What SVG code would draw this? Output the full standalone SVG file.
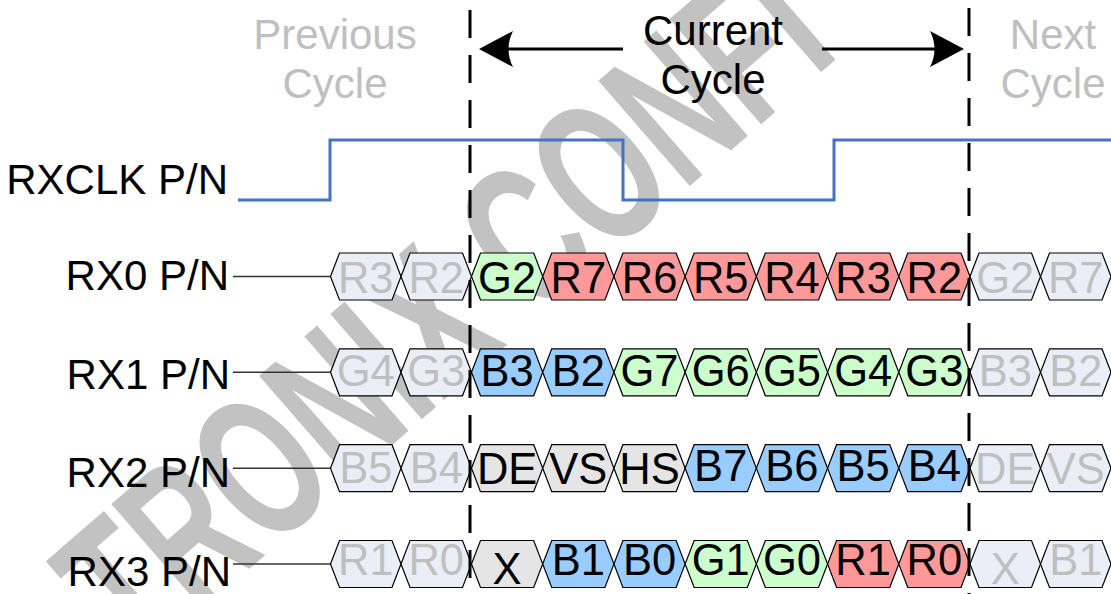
<svg xmlns="http://www.w3.org/2000/svg" xmlns:xlink="http://www.w3.org/1999/xlink" width="1111" height="594" viewBox="0 0 1111 594">
<style>
  text { font-family: "Liberation Sans", Arial, sans-serif; }
  .wm { font-size: 150px; font-weight: bold; fill: #c2c2c2; }
  .lbl { font-size: 42px; fill: #000; text-anchor: end; }
  .hdr { font-size: 42px; text-anchor: middle; }
  .hdr-in { fill: #bfbfbf; }
  .hdr-cur { fill: #000; }
  .ht { font-size: 43.5px; text-anchor: middle; }
  .on { fill: #000; }
  .off { fill: #bfbfbf; }
  .hx { stroke: #000; stroke-width: 1.2; stroke-linejoin: miter; }
  .ia { fill: #eaeff7; }
  .g { fill: #ccffcc; }
  .r { fill: #ff9999; }
  .b { fill: #99ccff; }
  .k { fill: #e5e5e5; }
  .wire { stroke: #333; stroke-width: 1.5; fill: none; }
  .clk { stroke: #4472c4; stroke-width: 3; fill: none; stroke-linejoin: miter; }
  .dash { stroke: #000; stroke-width: 3; stroke-dasharray: 28 17; fill: none; }
  .arr { stroke: #000; stroke-width: 3; fill: none; }
  .head { fill: #000; }
</style>
<defs>
  <path id="hexA" d="M0,0 L9,-23.5 H61.5 L70.5,0 L61.5,23.5 H9 Z"/>
  <path id="hexB" d="M0,0 L9,-23.5 H62.2 L71.2,0 L62.2,23.5 H9 Z"/>
</defs>

<g id="watermark">
  <text class="wm" transform="translate(136.2,667.4) rotate(-41) scale(0.87,1.35)">TRONIX CONFI</text>
</g>

<g id="connectors">
  <line class="wire" x1="233" y1="276.5" x2="330.5" y2="276.5"/>
  <line class="wire" x1="233" y1="372.3" x2="330.5" y2="372.3"/>
  <line class="wire" x1="233" y1="468.2" x2="330.5" y2="468.2"/>
  <line class="wire" x1="233" y1="564" x2="330.5" y2="564"/>
  <polyline class="clk" points="238,200 330,200 330,140 623,140 623,200 834,200 834,140 1111,140"/>
  <line class="arr" x1="505" y1="49" x2="623" y2="49"/>
  <line class="arr" x1="822" y1="49" x2="938" y2="49"/>
  <path class="head" d="M479,49 L513,31 Q504,49 513,67 Z"/>
  <path class="head" d="M964,49 L930,31 Q939,49 930,67 Z"/>
</g>

<g id="label-prev">
  <text class="hdr hdr-in" x="335" y="49">Previous</text>
  <text class="hdr hdr-in" x="335" y="98">Cycle</text>
</g>
<g id="label-current">
  <text class="hdr hdr-cur" x="713" y="45">Current</text>
  <text class="hdr hdr-cur" x="713" y="94">Cycle</text>
</g>
<g id="label-next">
  <text class="hdr hdr-in" x="1053" y="49">Next</text>
  <text class="hdr hdr-in" x="1053" y="98">Cycle</text>
</g>

<g id="label-rxclk"><text class="lbl" x="228" y="194">RXCLK P/N</text></g>
<g id="label-rx0"><text class="lbl" x="229" y="290">RX0 P/N</text></g>
<g id="label-rx1"><text class="lbl" x="230" y="389">RX1 P/N</text></g>
<g id="label-rx2"><text class="lbl" x="230" y="487">RX2 P/N</text></g>
<g id="label-rx3"><text class="lbl" x="231" y="586">RX3 P/N</text></g>

<!-- Row 0 -->
<g id="rx0-p1" transform="translate(330.5,276.5)"><use href="#hexA" class="hx ia"/><text class="ht off" x="35.25" y="16">R3</text></g>
<g id="rx0-p2" transform="translate(401,276.5)"><use href="#hexA" class="hx ia"/><text class="ht off" x="35.25" y="16">R2</text></g>
<g id="rx0-c1" transform="translate(471.5,276.5)"><use href="#hexB" class="hx g"/><text class="ht on" x="35.6" y="16">G2</text></g>
<g id="rx0-c2" transform="translate(542.71,276.5)"><use href="#hexB" class="hx r"/><text class="ht on" x="35.6" y="16">R7</text></g>
<g id="rx0-c3" transform="translate(613.93,276.5)"><use href="#hexB" class="hx r"/><text class="ht on" x="35.6" y="16">R6</text></g>
<g id="rx0-c4" transform="translate(685.14,276.5)"><use href="#hexB" class="hx r"/><text class="ht on" x="35.6" y="16">R5</text></g>
<g id="rx0-c5" transform="translate(756.36,276.5)"><use href="#hexB" class="hx r"/><text class="ht on" x="35.6" y="16">R4</text></g>
<g id="rx0-c6" transform="translate(827.57,276.5)"><use href="#hexB" class="hx r"/><text class="ht on" x="35.6" y="16">R3</text></g>
<g id="rx0-c7" transform="translate(898.79,276.5)"><use href="#hexB" class="hx r"/><text class="ht on" x="35.6" y="16">R2</text></g>
<g id="rx0-n1" transform="translate(970,276.5)"><use href="#hexA" class="hx ia"/><text class="ht off" x="35.25" y="16">G2</text></g>
<g id="rx0-n2" transform="translate(1040.5,276.5)"><use href="#hexA" class="hx ia"/><text class="ht off" x="35.25" y="16">R7</text></g>

<!-- Row 1 -->
<g id="rx1-p1" transform="translate(330.5,372.3)"><use href="#hexA" class="hx ia"/><text class="ht off" x="35.25" y="14">G4</text></g>
<g id="rx1-p2" transform="translate(401,372.3)"><use href="#hexA" class="hx ia"/><text class="ht off" x="35.25" y="14">G3</text></g>
<g id="rx1-c1" transform="translate(471.5,372.3)"><use href="#hexB" class="hx b"/><text class="ht on" x="35.6" y="14">B3</text></g>
<g id="rx1-c2" transform="translate(542.71,372.3)"><use href="#hexB" class="hx b"/><text class="ht on" x="35.6" y="14">B2</text></g>
<g id="rx1-c3" transform="translate(613.93,372.3)"><use href="#hexB" class="hx g"/><text class="ht on" x="35.6" y="14">G7</text></g>
<g id="rx1-c4" transform="translate(685.14,372.3)"><use href="#hexB" class="hx g"/><text class="ht on" x="35.6" y="14">G6</text></g>
<g id="rx1-c5" transform="translate(756.36,372.3)"><use href="#hexB" class="hx g"/><text class="ht on" x="35.6" y="14">G5</text></g>
<g id="rx1-c6" transform="translate(827.57,372.3)"><use href="#hexB" class="hx g"/><text class="ht on" x="35.6" y="14">G4</text></g>
<g id="rx1-c7" transform="translate(898.79,372.3)"><use href="#hexB" class="hx g"/><text class="ht on" x="35.6" y="14">G3</text></g>
<g id="rx1-n1" transform="translate(970,372.3)"><use href="#hexA" class="hx ia"/><text class="ht off" x="35.25" y="14">B3</text></g>
<g id="rx1-n2" transform="translate(1040.5,372.3)"><use href="#hexA" class="hx ia"/><text class="ht off" x="35.25" y="14">B2</text></g>

<!-- Row 2 -->
<g id="rx2-p1" transform="translate(330.5,468.2)"><use href="#hexA" class="hx ia"/><text class="ht off" x="35.25" y="15">B5</text></g>
<g id="rx2-p2" transform="translate(401,468.2)"><use href="#hexA" class="hx ia"/><text class="ht off" x="35.25" y="15">B4</text></g>
<g id="rx2-c1" transform="translate(471.5,468.2)"><use href="#hexB" class="hx k"/><text class="ht on" x="35.6" y="16">DE</text></g>
<g id="rx2-c2" transform="translate(542.71,468.2)"><use href="#hexB" class="hx k"/><text class="ht on" x="35.6" y="16">VS</text></g>
<g id="rx2-c3" transform="translate(613.93,468.2)"><use href="#hexB" class="hx k"/><text class="ht on" x="35.6" y="16">HS</text></g>
<g id="rx2-c4" transform="translate(685.14,468.2)"><use href="#hexB" class="hx b"/><text class="ht on" x="35.6" y="13">B7</text></g>
<g id="rx2-c5" transform="translate(756.36,468.2)"><use href="#hexB" class="hx b"/><text class="ht on" x="35.6" y="13">B6</text></g>
<g id="rx2-c6" transform="translate(827.57,468.2)"><use href="#hexB" class="hx b"/><text class="ht on" x="35.6" y="13">B5</text></g>
<g id="rx2-c7" transform="translate(898.79,468.2)"><use href="#hexB" class="hx b"/><text class="ht on" x="35.6" y="13">B4</text></g>
<g id="rx2-n1" transform="translate(970,468.2)"><use href="#hexA" class="hx ia"/><text class="ht off" x="35.25" y="16">DE</text></g>
<g id="rx2-n2" transform="translate(1040.5,468.2)"><use href="#hexA" class="hx ia"/><text class="ht off" x="35.25" y="16">VS</text></g>

<!-- Row 3 -->
<g id="rx3-p1" transform="translate(330.5,564)"><use href="#hexA" class="hx ia"/><text class="ht off" x="35.25" y="11">R1</text></g>
<g id="rx3-p2" transform="translate(401,564)"><use href="#hexA" class="hx ia"/><text class="ht off" x="35.25" y="11">R0</text></g>
<g id="rx3-c1" transform="translate(471.5,564)"><use href="#hexB" class="hx k"/><text class="ht on" x="35.6" y="20">X</text></g>
<g id="rx3-c2" transform="translate(542.71,564)"><use href="#hexB" class="hx b"/><text class="ht on" x="35.6" y="11">B1</text></g>
<g id="rx3-c3" transform="translate(613.93,564)"><use href="#hexB" class="hx b"/><text class="ht on" x="35.6" y="11">B0</text></g>
<g id="rx3-c4" transform="translate(685.14,564)"><use href="#hexB" class="hx g"/><text class="ht on" x="35.6" y="11">G1</text></g>
<g id="rx3-c5" transform="translate(756.36,564)"><use href="#hexB" class="hx g"/><text class="ht on" x="35.6" y="11">G0</text></g>
<g id="rx3-c6" transform="translate(827.57,564)"><use href="#hexB" class="hx r"/><text class="ht on" x="35.6" y="11">R1</text></g>
<g id="rx3-c7" transform="translate(898.79,564)"><use href="#hexB" class="hx r"/><text class="ht on" x="35.6" y="11">R0</text></g>
<g id="rx3-n1" transform="translate(970,564)"><use href="#hexA" class="hx ia"/><text class="ht off" x="35.25" y="20">X</text></g>
<g id="rx3-n2" transform="translate(1040.5,564)"><use href="#hexA" class="hx ia"/><text class="ht off" x="35.25" y="11">B1</text></g>

<g id="cycle-markers">
  <line class="dash" x1="470" y1="10" x2="470" y2="594"/>
  <line class="dash" x1="969" y1="8" x2="969" y2="594"/>
</g>
</svg>
